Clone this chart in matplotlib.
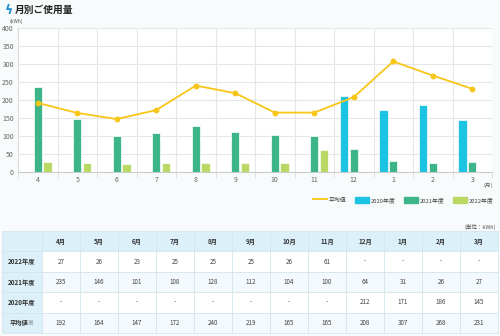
import numpy as np
import matplotlib.pyplot as plt
from matplotlib.patches import Rectangle
from matplotlib.lines import Line2D

plt.rcParams['font.family'] = ['Noto Sans CJK JP', 'DejaVu Sans']

# ---- data ------------------------------------------------------------
months = ["4", "5", "6", "7", "8", "9", "10", "11", "12", "1", "2", "3"]
y2022 = [27, 26, 23, 25, 25, 25, 26, 61, None, None, None, None]
y2021 = [235, 146, 101, 108, 128, 112, 104, 100, 64, 31, 26, 27]
y2020 = [None, None, None, None, None, None, None, None, 212, 171, 186, 145]
avg = [192, 164, 147, 172, 240, 219, 165, 165, 208, 307, 268, 231]

row_labels = ["2022年度", "2021年度", "2020年度", "平均値※"]

C20, C21, C22, CAVG = "#1cc3e3", "#3eb589", "#bad864", "#f7c619"
BG = "#f8fbfb"

W, H = 500, 336
fig = plt.figure(figsize=(W / 100, H / 100), dpi=100, facecolor=BG)

def box(l, t, r, b):
    return [l / W, 1 - b / H, (r - l) / W, (b - t) / H]

# ---- chart -----------------------------------------------------------
ax = fig.add_axes(box(18, 28, 492, 172))
ax.set_facecolor("white")
x = np.arange(len(months))
bw, off = 0.21, 0.245

def vals(s):
    return np.array([np.nan if v is None else v for v in s], dtype=float)

ax.bar(x - off, vals(y2020), bw, color=C20, edgecolor="white", lw=0.5, zorder=3)
ax.bar(x, vals(y2021), bw, color=C21, edgecolor="white", lw=0.5, zorder=3)
ax.bar(x + off, vals(y2022), bw, color=C22, edgecolor="white", lw=0.5, zorder=3)
ax.plot(x, avg, color=CAVG, lw=1.3, marker="o", ms=3.2, zorder=4)

ax.set_xlim(-0.5, len(months) - 0.5)
ax.set_ylim(0, 400)
ax.set_yticks(range(0, 401, 50))
ax.set_xticks(x, months)
ax.set_xticks(np.arange(-0.5, len(months), 1), minor=True)
ax.grid(axis="y", color="#e6e6e6", lw=0.8, zorder=0)
ax.grid(axis="x", which="minor", color="#e6e6e6", lw=0.8, zorder=0)
ax.tick_params(axis="both", which="major", labelsize=5, colors="#666666",
               length=0, pad=3)
ax.tick_params(axis="x", which="minor", length=4, color="#dddddd")
for s in ax.spines.values():
    s.set_visible(False)
ax.spines["left"].set_visible(True)
ax.spines["left"].set_color("#dddddd")
ax.spines["bottom"].set_visible(True)
ax.spines["bottom"].set_color("#cccccc")

fig.text(9 / W, 1 - 21 / H, "(kWh)", fontsize=3.5, color="#555555", va="center")
fig.text(488 / W, 1 - 185 / H, "(月)", fontsize=4, color="#555555",
         ha="center", va="center")

# title
fig.text(5 / W, 1 - 10 / H, "ϟ", fontsize=9, color="#1a8fd0", va="center",
         fontweight="bold")
fig.text(15 / W, 1 - 10 / H, "月別ご使用量", fontsize=7, fontweight="bold",
         color="#222222", va="center")

# legend
handles = [Line2D([], [], color=CAVG, lw=1.3),
           Rectangle((0, 0), 1, 1, color=C20),
           Rectangle((0, 0), 1, 1, color=C21),
           Rectangle((0, 0), 1, 1, color=C22)]
fig.legend(handles, ["平均値", "2020年度", "2021年度", "2022年度"],
           loc="center right", bbox_to_anchor=(499 / W, 1 - 200 / H),
           ncol=4, frameon=False, fontsize=4.2, handlelength=2.4,
           handleheight=1.2, columnspacing=1.5, handletextpad=0.3,
           labelcolor="#444444")

fig.text(496 / W, 1 - 227 / H, "(単位：kWh)", fontsize=4, color="#555555",
         ha="right", va="center")

# ---- table -----------------------------------------------------------
tx = fig.add_axes([0, 0, 1, 1], facecolor="none")
tx.set_xlim(0, W)
tx.set_ylim(H, 0)
tx.axis("off")

left, first_w = 2, 40
col_w = (498 - left - first_w) / len(months)
top, row_h = 231, 20.4
HEAD = "#dcf0fa"
rows = [y2022, y2021, y2020, avg]

def cell(x0, y0, w, h, fc):
    tx.add_patch(Rectangle((x0, y0), w, h, facecolor=fc, edgecolor="#d6e6ee",
                           lw=0.6))

# header row
cell(left, top, first_w, row_h, HEAD)
for j, m in enumerate(months):
    cx = left + first_w + j * col_w
    cell(cx, top, col_w, row_h, HEAD)
    tx.text(cx + col_w / 2, top + row_h / 2, m + "月", fontsize=4.5,
            fontweight="bold", color="#333333", ha="center", va="center")

for i, (lab, r) in enumerate(zip(row_labels, rows)):
    y0 = top + (i + 1) * row_h
    cell(left, y0, first_w, row_h, HEAD)
    tx.text(left + first_w / 2, y0 + row_h / 2, lab, fontsize=4.5,
            fontweight="bold", color="#333333", ha="center", va="center")
    fc = "white" if i % 2 == 0 else "#f3f9fc"
    for j, v in enumerate(r):
        cx = left + first_w + j * col_w
        cell(cx, y0, col_w, row_h, fc)
        tx.text(cx + col_w / 2, y0 + row_h / 2, "-" if v is None else str(v),
                fontsize=4.5, color="#444444", ha="center", va="center")

fig.savefig("out.png", dpi=100, facecolor=BG)
